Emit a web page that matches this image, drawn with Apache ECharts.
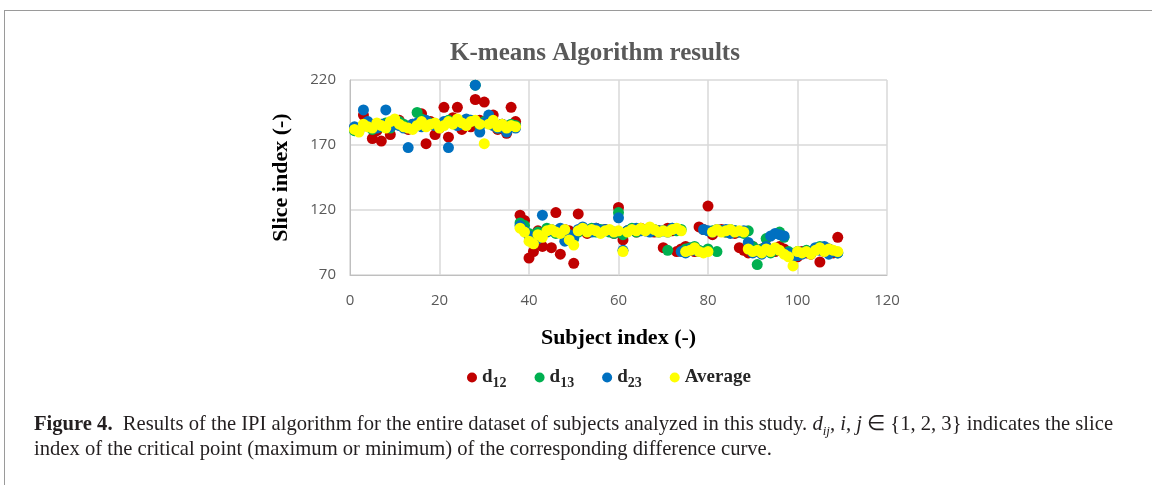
<!DOCTYPE html>
<html>
<head>
<meta charset="utf-8">
<script src="https://cdn.jsdelivr.net/npm/echarts@6/dist/echarts.min.js"></script>
<style>
  html, body { margin: 0; padding: 0; background: #fff; }
  #frame { position: absolute; left: 4px; top: 10px; width: 1300px; height: 600px; border: 1px solid #9a9a9a; }
  #main { position: absolute; left: 0; top: 0; width: 1152px; height: 485px; }
  #caption { position: absolute; left: 34px; top: 411px; font-family: "Liberation Serif", serif; font-size: 20.6px; line-height: 25px; color: #231f20; white-space: nowrap; }
  #caption sub { font-size: 13px; line-height: 0; }
</style>
</head>
<body>
<div id="frame"></div>
<div id="main"></div>
<div id="caption"><b>Figure 4.</b>&nbsp; Results of the IPI algorithm for the entire dataset of subjects analyzed in this study. <i>d<sub>ij</sub></i>, <i>i</i>, <i>j</i> &isin; {1, 2, 3} indicates the slice<br>index of the critical point (maximum or minimum) of the corresponding difference curve.</div>
<script>
// subject index 1..109
var subjects = [];
for (var k = 1; k <= 109; k++) subjects.push(k);

// slice index, rows of 10 subjects
var d12 = [
  183,181,193,186,175,181,173,185,178,186,
  189,184,182,186,185,194,171,188,178,183,
  199,176,191,199,182,185,184,205,189,203,
  190,193,182,186,179,199,188,116,112,83,
  88,104,92,104,91,118,86,105,104,79,
  117,106,102,104,106,103,105,104,102,122,
  97,104,105,103,106,104,105,103,104,91,
  106,104,88,90,92,89,88,107,105,123,
  101,104,105,103,104,102,91,89,87,92,
  88,90,92,89,88,92,90,87,86,84,
  88,87,86,90,80,88,90,87,99
];
var d13 = [
  181,183,185,187,182,186,184,187,183,189,
  188,186,184,185,195,190,185,187,186,184,
  186,189,187,188,186,187,189,216,185,188,
  187,186,183,185,182,186,185,110,108,102,
  99,103,101,106,104,102,105,103,100,98,
  103,105,104,106,103,105,104,103,102,118,
  101,104,106,103,105,104,106,104,103,104,
  89,106,104,105,90,91,92,89,88,90,
  104,88,104,103,105,104,103,102,104,92,
  78,90,98,87,89,103,99,88,86,88,
  87,89,88,90,92,89,90,88,87
];
var d23 = [
  184,182,197,188,185,183,186,197,184,187,
  185,183,168,186,187,184,189,186,185,184,
  188,168,187,185,186,190,189,216,180,187,
  193,185,183,186,180,184,183,108,104,100,
  95,98,116,103,105,104,106,96,101,99,
  105,107,104,103,106,104,105,104,103,114,
  89,104,105,106,104,105,103,105,104,104,
  103,106,105,88,87,90,89,88,105,104,
  103,105,104,105,102,104,103,104,95,87,
  89,86,92,100,102,101,100,87,84,85,
  86,88,87,91,89,92,86,88,87
];
var average = [
  182,180,186,184,183,187,185,183,188,190,
  186,184,183,182,185,188,184,186,187,183,
  185,188,186,190,187,185,188,189,186,171,
  186,189,184,186,183,185,184,106,103,96,
  94,101,99,104,105,103,102,105,97,93,
  104,106,103,105,104,102,104,105,103,104,
  88,103,105,104,106,104,107,105,103,104,
  103,105,106,104,88,89,91,88,87,88,
  103,105,103,104,105,103,104,103,90,88,
  89,87,90,88,91,89,86,84,77,88,
  87,88,86,89,91,88,90,89,88
];

var seriesNames = ['d12', 'd13', 'd23', 'Average'];
var seriesData = [d12, d13, d23, average];
var colors = ['#C00000', '#00B050', '#0070C0', '#FFFF00'];

function pairs(vals) {
  return vals.map(function (v, i) { return [subjects[i], v]; });
}

var myChart = echarts.init(document.getElementById('main'));

var option = {
  animation: false,
  color: colors,
  title: {
    text: 'K-means Algorithm results',
    left: 590,
    top: 36,
    textAlign: 'center',
    textStyle: { fontFamily: 'Liberation Serif', fontWeight: 'bold', fontSize: 25, color: '#595959' }
  },
  legend: {
    data: seriesNames,
    left: 462,
    top: 363,
    icon: 'circle',
    itemWidth: 10,
    itemHeight: 10,
    itemGap: 28,
    formatter: function (name) {
      if (name === 'Average') return '{b|Average}';
      return '{b|d}{s|' + name.slice(1) + '}';
    },
    textStyle: {
      color: '#262626',
      rich: {
        b: { fontFamily: 'Liberation Serif', fontWeight: 'bold', fontSize: 19 },
        s: { fontFamily: 'Liberation Serif', fontWeight: 'bold', fontSize: 14, padding: [11, 0, 0, 0] }
      }
    }
  },
  grid: { left: 350, right: 265, top: 80, bottom: 210 },
  xAxis: {
    type: 'value',
    min: 0, max: 120, interval: 20,
    name: 'Subject index (-)',
    nameLocation: 'middle',
    nameGap: 52,
    nameTextStyle: { fontFamily: 'Liberation Serif', fontWeight: 'bold', fontSize: 22, color: '#000' },
    axisLine: { lineStyle: { color: '#bfbfbf' } },
    axisTick: { show: false },
    axisLabel: { color: '#595959', fontSize: 15, fontFamily: 'Open Sans', margin: 18 },
    splitLine: { show: true, lineStyle: { color: '#d9d9d9', width: 1.5 } }
  },
  yAxis: {
    type: 'value',
    min: 70, max: 220, interval: 50,
    name: 'Slice index (-)',
    nameLocation: 'middle',
    nameGap: 58,
    nameTextStyle: { fontFamily: 'Liberation Serif', fontWeight: 'bold', fontSize: 22, color: '#000' },
    axisLine: { show: true, lineStyle: { color: '#bfbfbf' } },
    axisTick: { show: false },
    axisLabel: { color: '#595959', fontSize: 15, fontFamily: 'Open Sans', margin: 14 },
    splitLine: { show: true, lineStyle: { color: '#d9d9d9', width: 1.5 } }
  },
  series: seriesNames.map(function (n, i) {
    return {
      name: n,
      type: 'scatter',
      symbolSize: 11,
      data: pairs(seriesData[i]),
      itemStyle: { color: colors[i], opacity: 1 }
    };
  })
};

myChart.setOption(option);
</script>
</body>
</html>
